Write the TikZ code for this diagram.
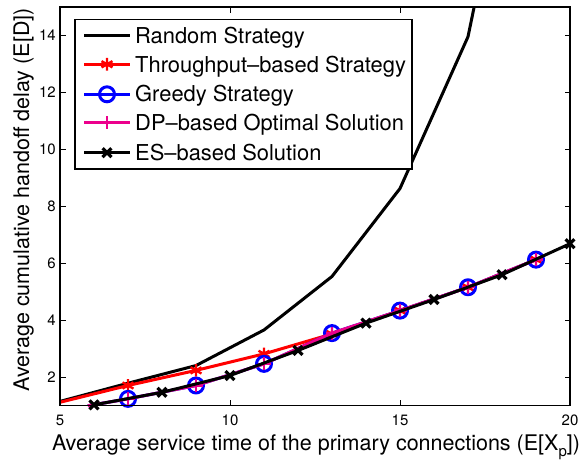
\documentclass[tikz,border=0pt]{standalone}
\usepackage{fontspec}
\setmainfont{TeX Gyre Heros}
\usetikzlibrary{plotmarks}

\tikzset{
  curve/.style={line width=3pt, line join=round},
  ticklabel/.style={inner sep=0pt, font=\fontsize{15}{15}\selectfont},
  axislabel/.style={inner sep=0pt, font=\fontsize{21.5}{24}\selectfont},
  legendtext/.style={inner sep=0pt, anchor=base west, font=\fontsize{21.9}{24}\selectfont},
}

\begin{document}
\begin{tikzpicture}[x=1pt, y=1pt]
    \useasboundingbox (0,0) rectangle (582,459);

    % Data area: x from 5 to 20, y from 1 to 15
    \begin{scope}[x=34pt, y=28.47pt, shift={(-110pt,24.83pt)}]
        % Random strategy (leaves the top of the box)
        \draw[curve, black] plot coordinates {(5,1.15) (7,1.79) (9,2.41) (11,3.66) (13,5.54) (15,8.63) (17,13.96) (17.18,15)};

        % Throughput-based strategy
        \draw[curve, red] plot[mark=asterisk, mark size=6.3pt, mark indices={2,...,8}, mark options={line width=2.4pt}]
            coordinates {(5,1.12) (7,1.71) (9,2.24) (11,2.82) (13,3.52) (15,4.34) (17,5.16) (19,6.13)};

        % Greedy strategy
        \draw[curve, blue] plot[mark=o, mark size=7.5pt, mark indices={2,...,8}, mark options={line width=3pt}]
            coordinates {(5.82,1.0) (7,1.24) (9,1.71) (11,2.47) (13,3.55) (15,4.34) (17,5.16) (19,6.13)};

        % DP-based optimal solution
        \draw[curve, magenta] plot[mark=+, mark size=6.5pt, mark indices={2,...,8}, mark options={line width=2.4pt}]
            coordinates {(5.82,1.0) (7,1.24) (9,1.71) (11,2.47) (13,3.55) (15,4.34) (17,5.16) (19,6.13)};

        % ES-based solution
        \draw[curve, black] plot[mark=x, mark size=6.3pt, mark options={line width=3.2pt}]
            coordinates {(6,1.03) (8,1.47) (10,2.06) (12,2.94) (14,3.90) (16,4.73) (18,5.60) (20,6.69)};

        % Axes box and ticks
        \draw[line width=1.3pt] (5,1) rectangle (20,15);
        \foreach \x in {10,15} {
            \draw[line width=1pt] (\x,1) -- ++(0,5.5pt);
            \draw[line width=1pt] (\x,15) -- ++(0,-5.5pt);
        }
        \foreach \y in {2,4,...,14} {
            \draw[line width=1pt] (5,\y) -- ++(5.5pt,0);
            \draw[line width=1pt] (20,\y) -- ++(-5.5pt,0);
        }

        % Tick labels
        \foreach \x in {5,10,15,20}
            \node[ticklabel, anchor=north, yshift=-9.3pt] (xt\x) at (\x,1) {\x};
        \foreach \y in {2,4,...,14}
            \node[ticklabel, anchor=east, xshift=-4pt] (yt\y) at (5,\y) {\y};
    \end{scope}

    % Axis labels
    \node[axislabel, rotate=90, anchor=base] (ylab) at (29,259) {Average cumulative handoff delay (E[D])};
    \node[axislabel, anchor=base] (xlab) at (316,8.5) {Average service time of the primary connections (E[X\raisebox{-6pt}{\fontsize{15}{15}\selectfont p}])};

    % Legend
    \draw[fill=white, line width=1.1pt] (75,290) rectangle (412,439.7);
    \draw[curve, black] (84,423) -- (130,423);
    \draw[curve, red] plot[mark=asterisk, mark size=6.3pt, mark indices={2}, mark options={line width=2.4pt}]
        coordinates {(84,394.7) (107,394.7) (130,394.7)};
    \draw[curve, blue] plot[mark=o, mark size=7.5pt, mark indices={2}, mark options={line width=3pt}]
        coordinates {(84,364.7) (107,364.7) (130,364.7)};
    \draw[curve, magenta] plot[mark=+, mark size=6.5pt, mark indices={2}, mark options={line width=2.4pt}]
        coordinates {(84,336.3) (107,336.3) (130,336.3)};
    \draw[curve, black] plot[mark=x, mark size=6.3pt, mark indices={2}, mark options={line width=3.2pt}]
        coordinates {(84,306.3) (107,306.3) (130,306.3)};

    \node[legendtext] (lrandom) at (135,415) {Random Strategy};
    \node[legendtext] (lthrough) at (135,386.3) {Throughput--based Strategy};
    \node[legendtext] (lgreedy) at (135,357.3) {Greedy Strategy};
    \node[legendtext] (ldp) at (135,328.3) {DP--based Optimal Solution};
    \node[legendtext] (les) at (135,298.3) {ES--based Solution};

\end{tikzpicture}
\end{document}
